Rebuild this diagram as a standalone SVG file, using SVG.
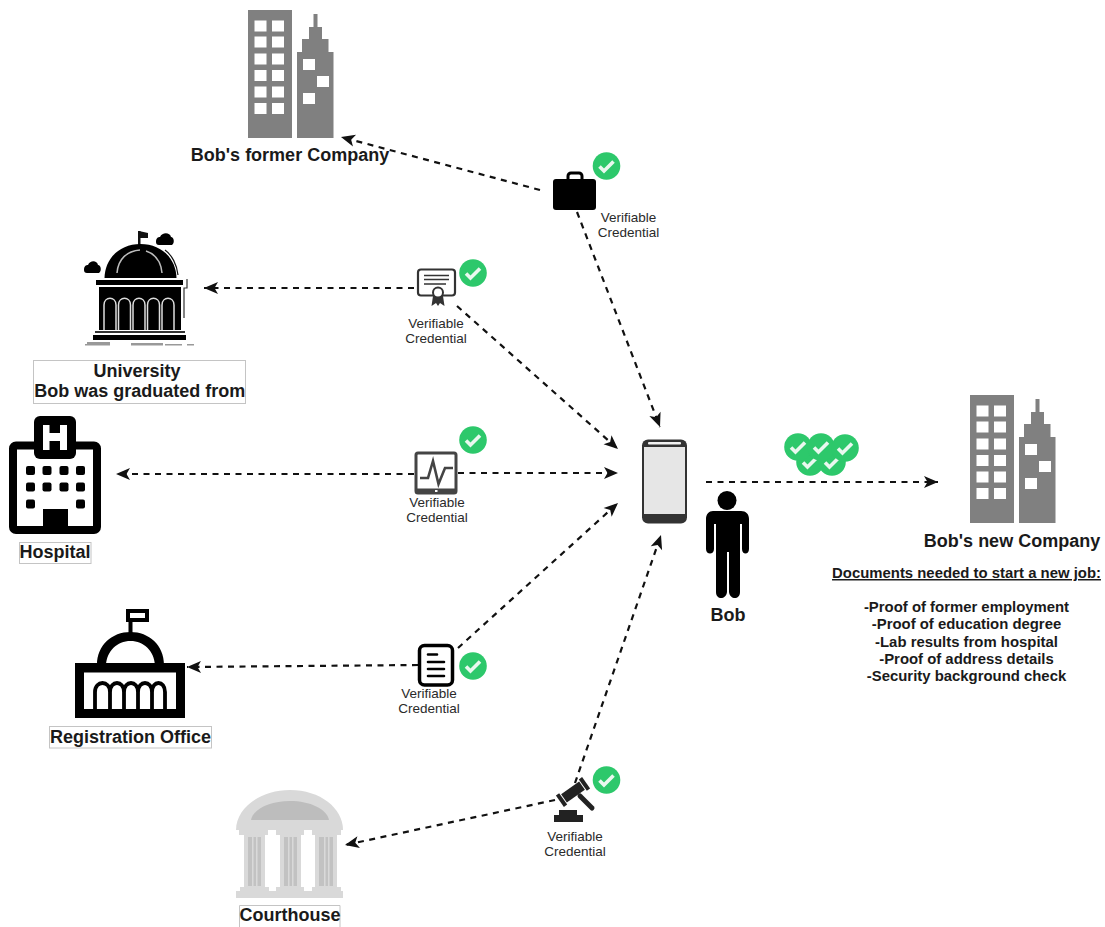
<svg xmlns="http://www.w3.org/2000/svg" xmlns:xlink="http://www.w3.org/1999/xlink" width="1105" height="927" viewBox="0 0 1105 927">
<style>
text{font-family:"Liberation Sans",Arial,sans-serif;text-anchor:middle}
.t{font-weight:bold;font-size:18px;fill:#1a1a1a}
.vc{font-size:13.5px;fill:#2a2a2a}
.d{font-weight:bold;font-size:14.9px;fill:#1a1a1a}
.box{fill:#fff;stroke:#c4c4c4;stroke-width:1}
.c{fill:none;stroke:#111;stroke-width:2.200;stroke-dasharray:6 5.500;marker-end:url(#arrow)}
.tower{fill:#808080}
.win{fill:#fff}
</style>
<defs>
<marker id="arrow" markerUnits="userSpaceOnUse" markerWidth="17" markerHeight="15" refX="15" refY="7.500" orient="auto">
<path d="M1,1.500 L15,7.500 L1,13.500 L4.500,7.500 Z" fill="#111"/>
</marker>
<g id="check">
<circle r="13.800" fill="#2dc86b"/>
<path d="M-7,0.500 L-2.500,5 L7,-4.500" fill="none" stroke="#e9f8ef" stroke-width="3.600"/>
</g>
<g id="building">
<rect class="tower" x="0" y="0" width="44" height="128"/>
<path class="tower" d="M49,128 V42 H54 V29 H61 V17 H65.500 V4 H69.500 V17 H74 V29 H80.500 V42 H85.500 V128 Z"/>
<g class="win">
<rect x="6.500" y="10.500" width="12" height="11"/><rect x="24" y="10.500" width="12" height="11"/>
<rect x="6.500" y="26.500" width="12" height="11"/><rect x="24" y="26.500" width="12" height="11"/>
<rect x="6.500" y="43.500" width="12" height="11"/><rect x="24" y="43.500" width="12" height="11"/>
<rect x="6.500" y="60" width="12" height="11"/><rect x="24" y="60" width="12" height="11"/>
<rect x="6.500" y="76.500" width="12" height="11"/><rect x="24" y="76.500" width="12" height="11"/>
<rect x="6.500" y="93" width="12" height="11"/><rect x="24" y="93" width="12" height="11"/>
<rect x="55" y="49" width="12" height="11"/><rect x="69" y="66" width="12" height="11"/><rect x="55" y="83" width="12" height="11"/>
</g>
</g>
</defs>
<rect width="1105" height="927" fill="#fff"/>

<g id="connectors">
<path class="c" d="M540,190 L341,137"/>
<path class="c" d="M577,212 L660,427"/>
<path class="c" d="M414,288 L204,288"/>
<path class="c" d="M457,306 L618,449"/>
<path class="c" d="M458,473 L618,473"/>
<path class="c" d="M414,474 L116,474"/>
<path class="c" d="M458,648 L618,503"/>
<path class="c" d="M418,665 L187,667"/>
<path class="c" d="M575,783 L661,535"/>
<path class="c" d="M555,800 L345,845"/>
<path class="c" d="M706,482 L938,482"/>
</g>

<g id="former-company">
<use href="#building" x="248" y="10"/>
<text class="t" x="290" y="161">Bob's former Company</text>
</g>

<g id="university">
<rect x="138" y="231" width="2.500" height="14" fill="#111"/>
<path d="M139,231 L148,233 V238 L139,238 Z" fill="#111"/>
<path d="M104.500,278 C105,258 120,244 140.500,244 C161,244 176,258 176.500,278 Z" fill="#000"/>
<path d="M117,273 C118,259 127,251 140,250 M146,251 C155,254 161,262 162,273" fill="none" stroke="#bbb" stroke-width="1.500"/>
<path d="M165,250 C172,255 177,265 178,275" fill="none" stroke="#111" stroke-width="1.200"/>
<path d="M84,270 C84,266 86,265 88,265 C90,260 97,260 98,265 C101,265 102,271 99,273 H87 C85,273 84,272 84,270 Z" fill="#000"/>
<path d="M156,242 C156,238 158,237 160,237 C162,232 170,232 171,237 C174,237 175,243 172,245 H159 C157,245 156,244 156,242 Z" fill="#000"/>
<rect x="96" y="280" width="87" height="5" fill="#000"/>
<rect x="99" y="287" width="82" height="43" fill="#000"/>
<g fill="none" stroke="#ddd" stroke-width="1.500">
<path d="M104,330 V305 C104,296 116,296 116,305 V330"/>
<path d="M118.500,330 V305 C118.500,296 130.500,296 130.500,305 V330"/>
<path d="M133,330 V305 C133,296 145,296 145,305 V330"/>
<path d="M147.500,330 V305 C147.500,296 159.500,296 159.500,305 V330"/>
<path d="M162,330 V305 C162,296 174,296 174,305 V330"/>
</g>
<path d="M187,279 V288 H184 V318" fill="none" stroke="#333" stroke-width="1.200"/>
<rect x="95" y="331" width="90" height="2" fill="#333"/>
<rect x="93" y="335" width="93" height="5" fill="#000"/>
<g fill="#999"><rect x="87" y="342" width="23" height="2"/><rect x="85" y="344" width="25" height="1.500"/><rect x="131" y="343" width="32" height="2.500"/><rect x="165" y="344" width="17" height="1.500"/><rect x="187" y="344" width="7" height="1.500"/></g>
<rect class="box" x="33.500" y="360.500" width="212" height="43"/>
<text class="t" x="137" y="377">University</text>
<text class="t" x="139.700" y="397">Bob was graduated from</text>
</g>

<g id="hospital">
<rect x="13" y="445.500" width="84" height="84.500" rx="3" fill="#fff" stroke="#000" stroke-width="8"/>
<rect x="34" y="416" width="42" height="43" rx="6" fill="#000"/>
<path d="M43,425 H49.500 V433 H60 V425 H67 V450 H60 V441 H49.500 V450 H43 Z" fill="#fff"/>
<g fill="#000">
<rect x="26" y="466" width="9" height="9" rx="2"/><rect x="42.500" y="466" width="9" height="9" rx="2"/><rect x="59.500" y="466" width="9" height="9" rx="2"/><rect x="76" y="466" width="9" height="9" rx="2"/>
<rect x="26" y="482.500" width="9" height="9" rx="2"/><rect x="42.500" y="482.500" width="9" height="9" rx="2"/><rect x="59.500" y="482.500" width="9" height="9" rx="2"/><rect x="76" y="482.500" width="9" height="9" rx="2"/>
<rect x="26" y="499.500" width="9" height="9" rx="2"/><rect x="76" y="499.500" width="9" height="9" rx="2"/>
<rect x="43" y="509" width="25" height="22"/>
</g>
<rect class="box" x="19.500" y="542.500" width="71.500" height="21"/>
<text class="t" x="55" y="558">Hospital</text>
</g>

<g id="registration-office">
<rect x="128.500" y="615" width="4" height="20" fill="#000"/>
<rect x="128" y="611" width="19" height="9" fill="#fff" stroke="#000" stroke-width="4"/>
<path d="M97,665 C97,645 112,632 130.500,632 C149,632 164,645 164,665 H155 C154,651 144,641 130.500,641 C117,641 107,651 106,665 Z" fill="#000"/>
<rect x="75" y="663" width="110" height="55" fill="#000"/>
<rect x="84" y="672.500" width="92" height="36.500" fill="#fff"/>
<path d="M95,709 V692 C95,680 110,680 110,692 V709 M110,692 C110,680 124,680 124,692 V709 M124,692 C124,680 138,680 138,692 V709 M138,692 C138,680 152,680 152,692 V709 M152,692 C152,680 165,680 165,692 V709" fill="none" stroke="#000" stroke-width="3.800"/>
<rect class="box" x="49.500" y="726.500" width="162" height="21.500"/>
<text class="t" x="130.500" y="743">Registration Office</text>
</g>

<g id="courthouse">
<path d="M236,830 C236,808 260,790 290,790 C320,790 343,808 343,830 Z" fill="#d9d9d9"/>
<path d="M251,820 C253,809 270,801 290,801 C310,801 327,809 329,820 Z" fill="#bdbdbd"/>
<g fill="#d9d9d9">
<rect x="239" y="830" width="29" height="5"/><rect x="276" y="830" width="28" height="5"/><rect x="312" y="830" width="29" height="5"/>
<rect x="244" y="835" width="21" height="52"/><rect x="280" y="835" width="21" height="52"/><rect x="315" y="835" width="22" height="52"/>
<rect x="240" y="887" width="29" height="5"/><rect x="276" y="887" width="28" height="5"/><rect x="312" y="887" width="29" height="5"/>
<rect x="236" y="891" width="107" height="7"/>
</g>
<g fill="#c2c2c2">
<rect x="248" y="837" width="13" height="49"/><rect x="284" y="837" width="13" height="49"/><rect x="319" y="837" width="14" height="49"/>
</g>
<g fill="#d9d9d9">
<rect x="252" y="837" width="1.500" height="49"/><rect x="256" y="837" width="1.500" height="49"/><rect x="288" y="837" width="1.500" height="49"/><rect x="292" y="837" width="1.500" height="49"/><rect x="324" y="837" width="1.500" height="49"/><rect x="328" y="837" width="1.500" height="49"/>
</g>
<path d="M239.500,927 V905.500 H340 V927" fill="#fff" stroke="#c4c4c4"/>
<text class="t" x="290" y="921">Courthouse</text>
</g>

<g id="vc-employment">
<rect x="553" y="179" width="43" height="31" rx="3" fill="#000"/>
<rect x="568" y="173" width="14" height="10" rx="3" fill="none" stroke="#000" stroke-width="3"/>
<use href="#check" x="606.500" y="166"/>
<text class="vc" x="628.500" y="222">Verifiable</text>
<text class="vc" x="628.500" y="237">Credential</text>
</g>

<g id="vc-degree">
<rect x="418" y="269.500" width="37" height="26" rx="3" fill="#fff" stroke="#333" stroke-width="2.200"/>
<path d="M424,275.500 H449 M424,279.500 H449 M424,284 H446" stroke="#333" stroke-width="1.600"/>
<path d="M433,296 L431.500,306 L436,303 L438,306 L440,303 L444.500,306 L443,296 Z" fill="#333"/>
<circle cx="438" cy="292.500" r="5" fill="#fff" stroke="#333" stroke-width="2"/>
<use href="#check" x="473" y="273"/>
<text class="vc" x="436" y="328">Verifiable</text>
<text class="vc" x="436" y="343">Credential</text>
</g>

<g id="vc-lab">
<rect x="416" y="453" width="40" height="40" rx="2" fill="#fff" stroke="#444" stroke-width="3"/>
<rect x="416" y="488.500" width="40" height="5" fill="#444"/>
<rect x="435" y="490" width="2.500" height="2" fill="#fff"/>
<path d="M420,478 H428 L433,461 L438.500,484 L445,468 H453" fill="none" stroke="#444" stroke-width="2.600"/>
<use href="#check" x="473" y="440"/>
<text class="vc" x="437" y="507">Verifiable</text>
<text class="vc" x="437" y="522">Credential</text>
</g>

<g id="vc-address">
<rect x="419.500" y="645.500" width="33" height="39.500" rx="5" fill="#fff" stroke="#000" stroke-width="3.500"/>
<path d="M428,654.500 H437 M428,662 H444 M428,669 H444 M428,676 H444" stroke="#000" stroke-width="2.600" stroke-linecap="round"/>
<use href="#check" x="473" y="666"/>
<text class="vc" x="429" y="698">Verifiable</text>
<text class="vc" x="429" y="713">Credential</text>
</g>

<g id="vc-security">
<rect x="554" y="815" width="29" height="7" fill="#222"/>
<rect x="559" y="810" width="18" height="5" fill="#222"/>
<path d="M580,796 L592,808" stroke="#222" stroke-width="5" stroke-linecap="round"/>
<g transform="rotate(-35 573 792)" fill="#222">
<rect x="562" y="787" width="22" height="10"/>
<rect x="557" y="785" width="4" height="14"/>
<rect x="585" y="785" width="4" height="14"/>
</g>
<use href="#check" x="606.500" y="780"/>
<text class="vc" x="575" y="841">Verifiable</text>
<text class="vc" x="575" y="856">Credential</text>
</g>

<g id="phone">
<rect x="642" y="439.500" width="45" height="84" rx="6" fill="#333"/>
<rect x="644" y="447" width="41" height="67" fill="#e6e6e6"/>
<rect x="648" y="442" width="33" height="2.500" rx="1" fill="#f2f2f2"/>
</g>

<g id="bob">
<circle cx="727" cy="500.500" r="9.500" fill="#000"/>
<path d="M713,511 H741 C746,511 749,514 749,519 V549 C749,555 742,555 742,549 V524 H740 V592 C740,600 730,600 729,592 V552 H727 V592 C726,600 716,600 716,592 V524 H714 V549 C714,555 706,555 706,549 V519 C706,514 709,511 713,511 Z" fill="#000"/>
<text class="t" x="728" y="621">Bob</text>
</g>

<g id="credentials">
<use href="#check" x="810" y="462"/>
<use href="#check" x="832" y="462"/>
<use href="#check" x="798" y="447"/>
<use href="#check" x="821" y="447"/>
<use href="#check" x="845" y="448"/>
</g>

<g id="new-company">
<use href="#building" x="970" y="395"/>
<text class="t" x="1012" y="546.500">Bob's new Company</text>
<text class="d" x="966.500" y="578" text-decoration="underline">Documents needed to start a new job:</text>
<text class="d" x="966.500" y="612">-Proof of former employment</text>
<text class="d" x="966.500" y="629">-Proof of education degree</text>
<text class="d" x="966.500" y="646.500">-Lab results from hospital</text>
<text class="d" x="966.500" y="664">-Proof of address details</text>
<text class="d" x="966.500" y="681">-Security background check</text>
</g>
</svg>
